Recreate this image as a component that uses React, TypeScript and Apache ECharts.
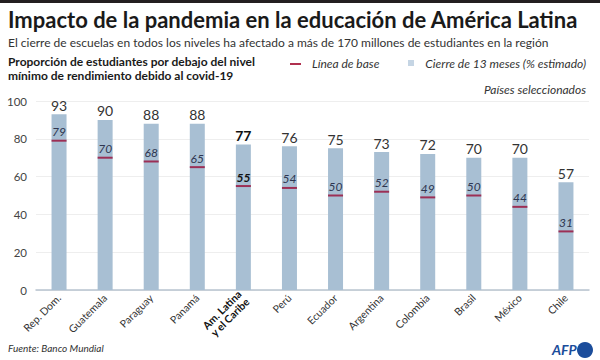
import React, { useEffect, useRef } from "react";
import * as echarts from "echarts";

const categories = ["Rep. Dom.", "Guatemala", "Paraguay", "Panamá", "Am. Latina\ny el Caribe", "Perú", "Ecuador", "Argentina", "Colombia", "Brasil", "México", "Chile"];
const closure13 = [93, 90, 88, 88, 77, 76, 75, 73, 72, 70, 70, 57];
const baseline = [79, 70, 68, 65, 55, 54, 50, 52, 49, 50, 44, 31];
const yTicks = [0, 20, 40, 60, 80, 100];
const highlightIndex = 4;

const FONT = "Lato, 'Noto Sans', sans-serif";

export default function App() {
  const ref = useRef<HTMLDivElement>(null);
  useEffect(() => {
    document.body.style.margin = "0";
    if (!ref.current) return;
    const chart = echarts.init(ref.current, null, { renderer: "svg" });
    chart.setOption({
      animation: false,
      backgroundColor: "#ffffff",
      textStyle: { fontFamily: FONT },
      grid: { left: 36, right: 11, top: 101, bottom: 70 },
      xAxis: {
        type: "category",
        data: categories,
        axisLine: { lineStyle: { color: "#b8c4cf", width: 1.5 } },
        axisTick: { show: false },
        axisLabel: {
          interval: 0,
          rotate: 45,
          fontSize: 10.5,
          color: "#333",
          margin: 6,
          lineHeight: 11,
          formatter: (v: string, i: number) => (i === highlightIndex ? `{b|${v}}` : v),
          rich: { b: { fontWeight: "bold", fontSize: 10.5, color: "#111", lineHeight: 11 } },
        },
      },
      yAxis: {
        type: "value",
        min: yTicks[0],
        max: yTicks[yTicks.length - 1],
        interval: 20,
        axisLine: { show: false },
        axisTick: { show: false },
        axisLabel: { fontSize: 11.5, color: "#444", margin: 9 },
        splitLine: { lineStyle: { color: "#eeeeee", width: 1 } },
      },
      series: [
        {
          type: "bar",
          barWidth: 15,
          data: closure13.map((v, i) => ({
            value: v,
            label: i === highlightIndex ? { fontWeight: "bold", color: "#111" } : undefined,
          })),
          itemStyle: { color: "#a8bfd3" },
          label: { show: true, position: "top", distance: 2, fontSize: 14, color: "#333" },
          z: 2,
        },
        {
          type: "scatter",
          symbol: "rect",
          symbolSize: [15, 2],
          data: baseline.map((v, i) => ({
            value: [i, v],
            label: i === highlightIndex ? { fontWeight: "bold", color: "#111" } : undefined,
          })),
          itemStyle: { color: "#9c2f55", opacity: 1 },
          label: {
            show: true,
            position: "top",
            distance: 2,
            fontSize: 12,
            fontStyle: "italic",
            color: "#2e3650",
            formatter: (p: any) => String(p.value[1]),
          },
          z: 3,
        },
      ],
      graphic: [
        { type: "rect", left: 0, top: 0, shape: { width: 600, height: 3 }, style: { fill: "#231f20" } },
        { type: "text", left: 8, top: 8, style: { text: "Impacto de la pandemia en la educación de América Latina", font: `bold 22px ${FONT}`, fill: "#1a1a1a" } },
        { type: "text", left: 8, top: 36, style: { text: "El cierre de escuelas en todos los niveles ha afectado a más de 170 millones de estudiantes en la región", font: `12px ${FONT}`, fill: "#333" } },
        { type: "text", left: 8, top: 54, style: { text: "Proporción de estudiantes por debajo del nivel\nmínimo de rendimiento debido al covid-19", font: `bold 12px ${FONT}`, fill: "#1a1a1a", lineHeight: 14 } },
        { type: "rect", left: 290, top: 63, shape: { width: 11, height: 2 }, style: { fill: "#b0304f" } },
        { type: "text", left: 312, top: 57, style: { text: "Línea de base", font: `italic 12px ${FONT}`, fill: "#333" } },
        { type: "rect", left: 408, top: 60, shape: { width: 6, height: 6 }, style: { fill: "#c5d5e4" } },
        { type: "text", right: 14, top: 57, style: { text: "Cierre de 13 meses (% estimado)", font: `italic 12px ${FONT}`, fill: "#333" } },
        { type: "text", right: 14, top: 83, style: { text: "Países seleccionados", font: `italic 12px ${FONT}`, fill: "#333" } },
        { type: "text", left: 8, top: 343, style: { text: "Fuente: Banco Mundial", font: `italic 10px ${FONT}`, fill: "#333" } },
        { type: "text", left: 552, top: 342, style: { text: "AFP", font: `italic bold 14px ${FONT}`, fill: "#1b4d9b" } },
        { type: "circle", shape: { cx: 585, cy: 350, r: 8 }, style: { fill: "#1b4d9b" } },
      ],
    });
    return () => chart.dispose();
  }, []);
  return <div ref={ref} style={{ width: 600, height: 360 }} />;
}
